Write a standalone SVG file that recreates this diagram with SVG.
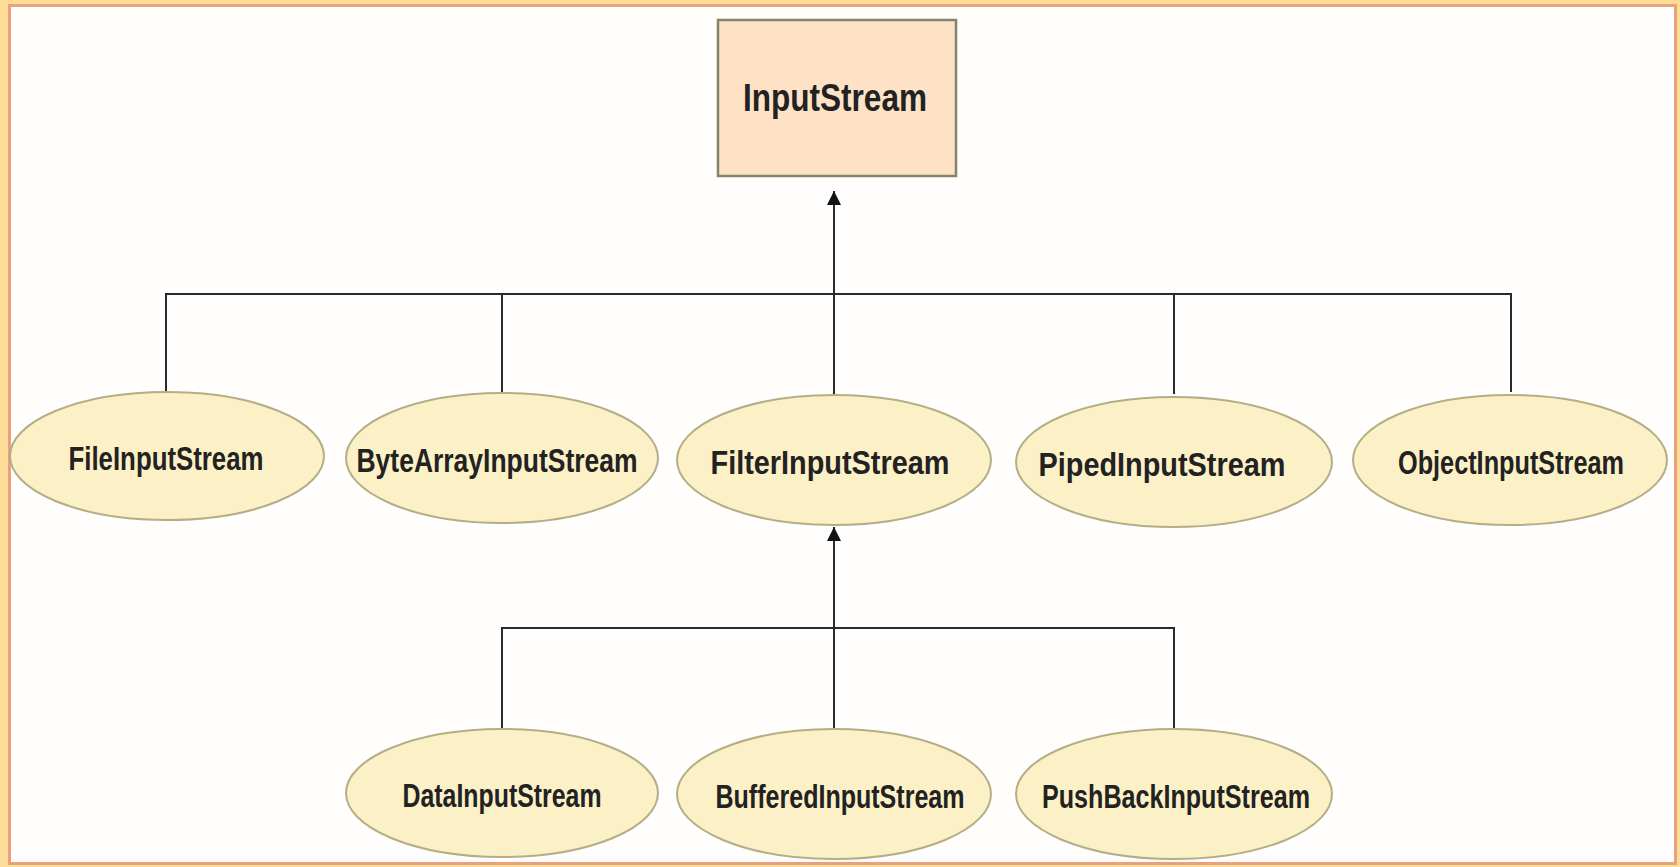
<svg xmlns="http://www.w3.org/2000/svg" width="1680" height="867" viewBox="0 0 1680 867">
<defs>
<style>
.lbl{font-family:"Liberation Sans",Arial,sans-serif;font-weight:bold;fill:#222;text-anchor:middle}
.ell{fill:#fcf0c6;stroke:#b4ae86;stroke-width:2}
.ln{stroke:#2a2a2a;stroke-width:2;fill:none}
</style>
<marker id="arr" markerWidth="16" markerHeight="16" refX="14" refY="7" orient="auto" markerUnits="userSpaceOnUse">
<path d="M0,0 L14,7 L0,14 Z" fill="#111"/>
</marker>
</defs>
<rect x="0" y="0" width="1680" height="867" fill="#fddc98"/>
<rect x="9.5" y="5.5" width="1666" height="858" fill="#fffefd" stroke="#e9a07e" stroke-width="3"/>
<g id="connectors">
<path class="ln" d="M166,392 V294 H1511 V392 M502,392 V294 M1174,394 V294"/>
<path class="ln" d="M834,394 V191" marker-end="url(#arr)"/>
<path class="ln" d="M502,729 V628 H1174 V729"/>
<path class="ln" d="M834,729 V527" marker-end="url(#arr)"/>
</g>
<g id="InputStream">
<rect x="718" y="20" width="238" height="156" fill="#fde2c6" stroke="#85836a" stroke-width="2.5"/>
<text class="lbl" x="835" y="111" font-size="38" textLength="184" lengthAdjust="spacingAndGlyphs">InputStream</text>
</g>
<g id="FileInputStream">
<ellipse class="ell" cx="167" cy="456" rx="157" ry="64"/>
<text class="lbl" x="166" y="470" font-size="34" textLength="195" lengthAdjust="spacingAndGlyphs">FileInputStream</text>
</g>
<g id="ByteArrayInputStream">
<ellipse class="ell" cx="502" cy="458" rx="156" ry="65"/>
<text class="lbl" x="497" y="472" font-size="34" textLength="281" lengthAdjust="spacingAndGlyphs">ByteArrayInputStream</text>
</g>
<g id="FilterInputStream">
<ellipse class="ell" cx="834" cy="460" rx="157" ry="65"/>
<text class="lbl" x="830" y="474" font-size="34" textLength="239" lengthAdjust="spacingAndGlyphs">FilterInputStream</text>
</g>
<g id="PipedInputStream">
<ellipse class="ell" cx="1174" cy="462" rx="158" ry="65"/>
<text class="lbl" x="1162" y="476" font-size="34" textLength="247" lengthAdjust="spacingAndGlyphs">PipedInputStream</text>
</g>
<g id="ObjectInputStream">
<ellipse class="ell" cx="1510" cy="460" rx="157" ry="65"/>
<text class="lbl" x="1511" y="474" font-size="34" textLength="226" lengthAdjust="spacingAndGlyphs">ObjectInputStream</text>
</g>
<g id="DataInputStream">
<ellipse class="ell" cx="502" cy="793" rx="156" ry="64"/>
<text class="lbl" x="502" y="807" font-size="34" textLength="199" lengthAdjust="spacingAndGlyphs">DataInputStream</text>
</g>
<g id="BufferedInputStream">
<ellipse class="ell" cx="834" cy="794" rx="157" ry="65"/>
<text class="lbl" x="840" y="808" font-size="34" textLength="249" lengthAdjust="spacingAndGlyphs">BufferedInputStream</text>
</g>
<g id="PushBackInputStream">
<ellipse class="ell" cx="1174" cy="794" rx="158" ry="65"/>
<text class="lbl" x="1176" y="808" font-size="34" textLength="268" lengthAdjust="spacingAndGlyphs">PushBackInputStream</text>
</g>
</svg>
